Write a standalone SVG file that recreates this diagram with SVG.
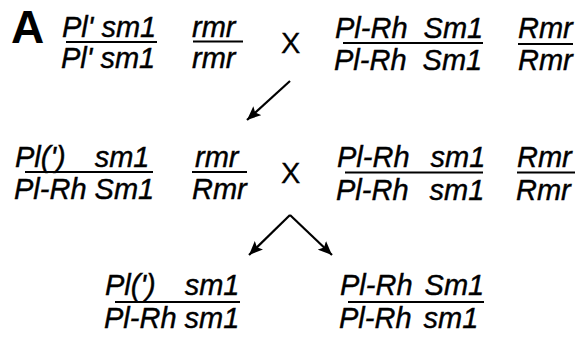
<svg xmlns="http://www.w3.org/2000/svg" width="580" height="337" viewBox="0 0 580 337">
<style>
.g{font-family:"Liberation Sans",Arial,Helvetica,sans-serif;font-style:italic;font-size:29px;fill:#000;stroke:#000;stroke-width:0.4}
.x{font-family:"Liberation Sans",Arial,Helvetica,sans-serif;font-size:29px;fill:#000;stroke:#000;stroke-width:0.3}
.lbl{font-family:"Liberation Sans",Arial,Helvetica,sans-serif;font-weight:bold;font-size:46px;fill:#000}
.bar{stroke:#000;stroke-width:2.2;fill:none}
.arr{stroke:#000;stroke-width:2.2;fill:none;marker-end:url(#ah)}
</style>
<defs>
<marker id="ah" markerUnits="userSpaceOnUse" markerWidth="16" markerHeight="12" refX="14" refY="6" orient="auto">
<path d="M0,0 L14,6 L0,12 L3,6 Z" fill="#000"/>
</marker>
</defs>
<rect width="580" height="337" fill="#fff"/>
<g id="label-A"><text class="lbl" x="11" y="43">A</text></g>

<g id="p1-left">
<text class="g" x="62" y="37">Pl' sm1</text>
<line class="bar" x1="66" y1="42" x2="157" y2="42"/>
<text class="g" x="61" y="68">Pl' sm1</text>
</g>
<g id="p1-left-rmr">
<text class="g" x="192" y="37">rmr</text>
<line class="bar" x1="193" y1="41.5" x2="243" y2="41.5"/>
<text class="g" x="192" y="68">rmr</text>
</g>
<g id="cross1"><text class="x" x="281" y="53">X</text></g>
<g id="p1-right">
<text class="g" x="335" y="38" word-spacing="8">Pl-Rh Sm1</text>
<line class="bar" x1="343" y1="43" x2="483" y2="43"/>
<text class="g" x="334" y="70" word-spacing="8">Pl-Rh Sm1</text>
</g>
<g id="p1-right-rmr">
<text class="g" x="518" y="38">Rmr</text>
<line class="bar" x1="518" y1="44" x2="573" y2="44"/>
<text class="g" x="518" y="70">Rmr</text>
</g>

<g id="f1-left">
<text class="g" x="15" y="167" word-spacing="21">Pl(') sm1</text>
<line class="bar" x1="25" y1="172" x2="153" y2="172"/>
<text class="g" x="14" y="199">Pl-Rh Sm1</text>
</g>
<g id="f1-left-rmr">
<text class="g" x="195" y="167">rmr</text>
<line class="bar" x1="192" y1="172" x2="247" y2="172"/>
<text class="g" x="192" y="199">Rmr</text>
</g>
<g id="cross2"><text class="x" x="281" y="183">X</text></g>
<g id="p2-right">
<text class="g" x="337" y="167" word-spacing="13">Pl-Rh sm1</text>
<line class="bar" x1="345" y1="172.5" x2="483" y2="172.5"/>
<text class="g" x="336" y="200" word-spacing="13">Pl-Rh sm1</text>
</g>
<g id="p2-right-rmr">
<text class="g" x="517" y="167">Rmr</text>
<line class="bar" x1="517" y1="172.5" x2="575" y2="172.5"/>
<text class="g" x="516" y="200">Rmr</text>
</g>

<g id="b-left">
<text class="g" x="105" y="295" word-spacing="21">Pl(') sm1</text>
<line class="bar" x1="115" y1="302" x2="240" y2="302"/>
<text class="g" x="104" y="328">Pl-Rh sm1</text>
</g>
<g id="b-right">
<text class="g" x="340" y="295" word-spacing="4">Pl-Rh Sm1</text>
<line class="bar" x1="348" y1="302" x2="484" y2="302"/>
<text class="g" x="339" y="328" word-spacing="4">Pl-Rh sm1</text>
</g>

<g id="connectors">
<line class="arr" x1="290" y1="81" x2="247" y2="120"/>
<line class="arr" x1="290" y1="215" x2="249" y2="255"/>
<line class="arr" x1="290" y1="215" x2="332" y2="255"/>
</g>
</svg>
